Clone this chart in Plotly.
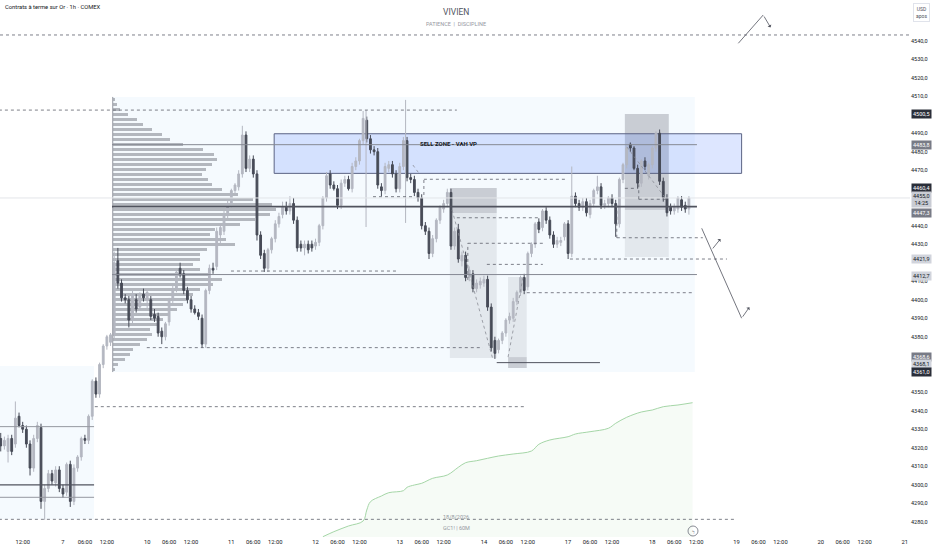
import numpy as np
import plotly.graph_objects as go

# ---------------- DATA ----------------
# hourly candles (bar index 0 = first visible bar)
opens = [4325,4321,4318,4325,4322,4337,4332,4330,4322,4309,
4325,4331,4291,4298,4306,4301,4308,4298,4296,4311,
4291,4309,4315,4325,4324,4337,4356,4349,4365,4375,
4377,4381,4421,4409,4401,4400,4389,4400,4396,4403,
4400,4400,4392,4391,4383,4380,4388,4400,4406,4417,
4414,4405,4400,4395,4393,4390,4376,4405,4417,4418,
4435,4437,4446,4452,4459,4461,4468,4489,4471,4476,
4468,4435,4425,4417,4427,4433,4441,4446,4450,4448,
4452,4443,4430,4428,4430,4430,4429,4431,4440,4455,
4468,4462,4460,4451,4463,4465,4460,4472,4475,4486,
4497,4487,4481,4480,4461,4459,4471,4473,4468,4460,
4472,4486,4466,4465,4458,4455,4440,4437,4425,4433,
4443,4449,4452,4458,4429,4438,4421,4424,4412,4414,
4406,4408,4409,4411,4396,4378,4373,4378,4382,4389,
4390,4399,4404,4412,4407,4425,4430,4442,4439,4448,
4443,4435,4430,4431,4434,4441,4425,4456,4452,4450,
4453,4446,4452,4459,4461,4451,4452,4455,4452,4441,
4465,4473,4484,4482,4471,4463,4475,4467,4473,4482,
4490,4464,4455,4450,4448,4449,4454,4451,4449]
highs = [4328,4326,4327,4327,4345,4339,4334,4332,4324,4327,
4334,4333,4300,4308,4308,4310,4310,4300,4312,4313,
4311,4316,4326,4327,4338,4357,4358,4366,4376,4381,
4382,4426,4428,4411,4403,4402,4405,4403,4404,4406,
4406,4402,4395,4393,4385,4388,4401,4408,4416,4420,
4416,4407,4402,4397,4395,4392,4406,4419,4420,4439,
4441,4448,4454,4460,4463,4470,4494,4491,4478,4478,
4470,4437,4427,4428,4434,4443,4447,4453,4453,4456,
4455,4445,4432,4432,4432,4432,4433,4441,4456,4469,
4470,4464,4462,4465,4467,4467,4474,4477,4487,4502,
4499,4489,4483,4482,4463,4474,4475,4475,4470,4474,
4488,4488,4468,4467,4460,4457,4442,4439,4435,4444,
4451,4454,4460,4460,4439,4441,4426,4426,4418,4416,
4411,4412,4413,4413,4398,4380,4379,4383,4390,4393,
4401,4405,4413,4414,4426,4431,4442,4444,4449,4450,
4445,4437,4434,4434,4442,4443,4472,4458,4454,4455,
4455,4454,4460,4467,4463,4454,4456,4457,4454,4466,
4474,4483,4485,4483,4473,4476,4477,4474,4483,4491,
4492,4466,4457,4452,4452,4456,4456,4453,4456]
lows = [4318,4319,4312,4316,4320,4331,4328,4320,4305,4307,
4323,4287,4281,4296,4300,4299,4296,4293,4294,4288,
4289,4307,4313,4322,4322,4335,4347,4347,4363,4373,
4375,4379,4406,4399,4398,4385,4387,4393,4394,4399,
4395,4389,4388,4380,4376,4378,4386,4398,4404,4412,
4403,4398,4393,4392,4389,4374,4374,4403,4414,4416,
4430,4435,4444,4450,4457,4459,4466,4469,4469,4466,
4432,4422,4415,4415,4425,4431,4439,4444,4446,4446,
4441,4426,4426,4424,4425,4426,4427,4429,4438,4453,
4460,4459,4449,4449,4461,4459,4458,4470,4473,4484,
4485,4479,4478,4460,4456,4457,4469,4466,4458,4458,
4470,4464,4463,4456,4453,4438,4435,4422,4423,4431,
4441,4447,4450,4427,4427,4420,4418,4410,4410,4404,
4404,4406,4407,4394,4372,4368,4371,4376,4380,4387,
4388,4397,4402,4403,4405,4423,4428,4436,4437,4441,
4433,4428,4428,4429,4432,4422,4423,4450,4448,4448,
4445,4444,4450,4457,4449,4449,4450,4450,4434,4439,
4463,4471,4480,4470,4460,4461,4470,4465,4471,4480,
4462,4453,4445,4446,4446,4447,4448,4447,4446]
closes = [4321,4324,4325,4318,4336,4332,4330,4322,4309,4325,
4332,4291,4298,4306,4302,4308,4298,4295,4311,4291,
4309,4315,4325,4324,4337,4356,4349,4365,4375,4380,
4381,4420,4409,4401,4400,4389,4403,4395,4402,4401,
4404,4391,4390,4382,4380,4387,4400,4406,4415,4414,
4405,4400,4395,4393,4391,4376,4405,4417,4416,4437,
4439,4446,4452,4459,4462,4468,4489,4471,4476,4468,
4435,4424,4417,4427,4433,4441,4445,4450,4448,4452,
4443,4428,4428,4430,4427,4428,4431,4440,4455,4467,
4462,4460,4451,4463,4465,4460,4472,4475,4486,4498,
4487,4481,4480,4462,4459,4472,4473,4468,4460,4472,
4486,4466,4465,4458,4455,4440,4437,4425,4433,4443,
4450,4452,4458,4429,4437,4422,4424,4412,4416,4406,
4409,4410,4411,4396,4374,4371,4378,4382,4389,4391,
4399,4404,4412,4405,4425,4430,4441,4438,4448,4443,
4435,4430,4432,4432,4441,4425,4456,4452,4450,4453,
4447,4452,4459,4461,4451,4452,4455,4452,4441,4465,
4473,4482,4482,4471,4463,4475,4472,4473,4482,4490,
4464,4455,4447,4448,4450,4455,4450,4449,4455]
FIRST_BAR = -17   # bar offset relative to session "7" 00:00

# volume profile (rows from top to bottom of range)
VP_HIGH = 4509.6
VP_LOW = 4360.9
vp_volume = [2,4,7,15,24,30,39,49,57,70,90,101,104,99,93,89,95,99,109,125,
             140,159,163,157,142,127,102,97,113,122,94,87,87,80,87,97,109,100,87,80,
             74,70,64,57,50,44,37,39,34,27,20,17,12,5,2]

# cumulative indicator (green line at bottom)
ind_bar = [71,74,78,82,83,84,87,89,93,94,96,98,101,105,108,110,113,116,119,123,
           128,130,133,138,140,144,149,151,154,158,161,164,168,172]
ind_val = [0.3,5.3,11,16,27,35.3,41,44.3,46.3,49.7,52,53.7,58.7,62,69.7,74.3,76.3,78.7,81,83,
           86,92.7,97,100.3,103,105.3,108.7,113.7,119.7,125,127,130.3,132,134.3]

# axis ticks
x_tick_bars = [-11,0,6,12,23,29,35,46,52,58,69,75,81,92,98,104,115,121,127,
               138,144,150,161,167,173,184,190,196,207,213,219,230]
x_tick_text = ["12:00","7","06:00","12:00","10","06:00","12:00","11","06:00","12:00",
               "12","06:00","12:00","13","06:00","12:00","14","06:00","12:00",
               "17","06:00","12:00","18","06:00","12:00","19","06:00","12:00",
               "20","06:00","12:00","21"]
y_ticks = list(range(4280, 4541, 10))
y_ticks_hidden = [4500, 4460, 4450, 4420, 4370, 4360]   # covered by price badges

# price-scale badges: (value, bg, text colour, extra line)
badges = [(4500.5, "#2a2e39", "#ffffff", ""),
          (4483.8, "#787b86", "#ffffff", ""),
          (4460.4, "#2a2e39", "#ffffff", ""),
          (4455.0, "#c9ccd4", "#131722", "14:25"),
          (4447.3, "#787b86", "#ffffff", ""),
          (4421.9, "#d1d4dc", "#131722", ""),
          (4412.7, "#d1d4dc", "#131722", ""),
          (4368.6, "#787b86", "#ffffff", ""),
          (4368.1, "#d1d4dc", "#131722", ""),
          (4361.0, "#2a2e39", "#ffffff", "")]
badge_pos = [4500.5, 4483.8, 4460.4, 4454.0, 4447.0, 4421.9, 4412.7, 4369.2, 4365.0, 4360.8]

# ---------------- FIGURE ----------------
bars = np.arange(len(opens)) + FIRST_BAR
FONT = "Roboto"
DARK = "#131722"

fig = go.Figure()

# volume profile
n = len(vp_volume)
step = (VP_HIGH - VP_LOW) / n
row_centers = [VP_HIGH - (k + 0.5) * step for k in range(n)]
VP_START = 13.6
VP_SCALE = 1 / 3.661
fig.add_trace(go.Bar(orientation="h", y=row_centers, x=[v * VP_SCALE for v in vp_volume],
                     base=VP_START, width=step * 0.72,
                     marker=dict(color="rgba(135,138,147,0.6)", line=dict(width=0)),
                     hoverinfo="skip"))

fig.add_trace(go.Candlestick(x=bars, open=opens, high=highs, low=lows, close=closes,
                             increasing=dict(line=dict(color="#b4b7c1", width=1), fillcolor="#b4b7c1"),
                             decreasing=dict(line=dict(color="#474b57", width=1), fillcolor="#474b57"),
                             whiskerwidth=0))

fig.add_trace(go.Scatter(x=ind_bar, y=ind_val, yaxis="y2", mode="lines",
                         line=dict(color="#a5d6a7", width=1, shape="spline"),
                         fill="tozeroy", fillcolor="rgba(129,199,132,0.07)", hoverinfo="skip"))

shapes = []
def rect(x0, x1, y0, y1, fill, line_color=None, lw=0, layer="below"):
    shapes.append(dict(type="rect", xref="x", yref="y", x0=x0, x1=x1, y0=y0, y1=y1,
                       fillcolor=fill, layer=layer,
                       line=dict(color=line_color or "rgba(0,0,0,0)", width=lw)))
def line(x0, y0, x1, y1, color, width=1, dash="solid", xref="x"):
    shapes.append(dict(type="line", xref=xref, yref="y", x0=x0, x1=x1, y0=y0, y1=y1,
                       line=dict(color=color, width=width, dash=dash)))

LB = "rgba(33,150,243,0.045)"
rect(-17.5, 8.5, 4281.5, 4364.2, LB)
rect(13.4, 172.6, 4360.9, 4509.6, LB)
GD = "rgba(110,113,124,0.32)"
GL = "rgba(110,113,124,0.13)"
rect(105.7, 118.5, 4446.9, 4460.4, GD)
rect(105.7, 118.5, 4368.5, 4446.9, GL)
rect(121.6, 126.7, 4369.0, 4412.3, GL)
rect(121.6, 126.7, 4363.1, 4369.0, GD)
rect(153.5, 165.5, 4448.5, 4500.4, GD)
rect(153.5, 165.5, 4423.1, 4448.5, GL)
rect(57.7, 185.4, 4468.3, 4489.7, "rgba(41,98,255,0.16)", "#5b6384", 1)

# long wick-like vertical markers
line(82.8, 4439.3, 82.8, 4502.5, "#b4b7c1", 1)
line(93.6, 4441.5, 93.6, 4508.0, "#b4b7c1", 1)

# VP base line and key levels
line(VP_START, VP_LOW, VP_START, VP_HIGH, "#9598a1", 1)
line(13.4, 4483.8, 173.2, 4483.8, "#868993", 1)
line(13.4, 4450.3, 173.2, 4450.3, "#50535e", 1.6)
line(13.4, 4413.6, 173.2, 4413.6, "#868993", 1)
line(0, 4455.0, 1, 4455.0, "#e3e5ea", 1, xref="paper")
# left range levels
line(-17.5, 4331.4, 8.5, 4331.4, "#9598a1", 1)
line(-17.5, 4299.9, 8.5, 4299.9, "#50535e", 1.4)
line(-17.5, 4293.2, 8.5, 4293.2, "#9598a1", 1)
# dotted levels
DOT = "#5d606b"
line(0, 4543.1, 1, 4543.1, DOT, 0.8, "dot", xref="paper")
line(-17.5, 4502.5, 107.6, 4502.5, DOT, 0.8, "dot")
line(-17.5, 4281.3, 183.6, 4281.3, DOT, 0.8, "dot")
line(8.7, 4342.2, 126.7, 4342.2, DOT, 0.8, "dot")
line(84.7, 4455.7, 95.6, 4455.7, DOT, 0.8, "dot")
line(98.6, 4465.1, 137.7, 4465.1, DOT, 0.8, "dot")
line(98.6, 4456.6, 98.6, 4465.1, DOT, 0.8, "dot")
line(45.9, 4415.5, 91.5, 4415.5, DOT, 0.8, "dot")
line(22.9, 4374.1, 114.7, 4374.1, DOT, 0.8, "dot")
line(107.6, 4444.3, 130.3, 4444.3, DOT, 0.8, "dot")
line(110.6, 4430.5, 131.7, 4430.5, DOT, 0.8, "dot")
line(110.6, 4410.7, 110.6, 4430.5, DOT, 0.8, "dot")
line(115.8, 4419.1, 131.1, 4419.1, DOT, 0.8, "dot")
line(126.7, 4403.8, 172.6, 4403.8, DOT, 0.8, "dot")
line(138.5, 4422.0, 181.4, 4422.0, DOT, 0.8, "dot")
line(151.3, 4433.5, 174.8, 4433.5, DOT, 0.8, "dot")
line(151.3, 4433.5, 151.3, 4452.8, DOT, 0.8, "dot")
line(153.5, 4460.2, 156.2, 4460.2, DOT, 0.8, "dot")
line(157.3, 4454.3, 165.3, 4454.3, DOT, 0.8, "dot")
line(157.3, 4454.3, 157.3, 4464.7, DOT, 0.8, "dot")
# diagonal dotted paths
GDOT = "#8a8d96"
line(154.1, 4482.5, 165.0, 4453.9, GDOT, 0.8, "dot")
line(106.3, 4448.5, 117.5, 4367.4, GDOT, 0.8, "dot")
line(121.6, 4369.0, 125.7, 4412.3, GDOT, 0.8, "dot")
line(95.6, 4472.8, 97.2, 4468.5, GDOT, 0.8, "dot")
# low line
line(118.5, 4366.0, 146.7, 4366.0, "#50535e", 1)
# projection arrows (line parts)
ARW = "#50535e"
line(184.5, 4538.6, 191.3, 4553.9, ARW, 0.8)
line(174.5, 4438.6, 185.4, 4390.0, ARW, 0.8)

# icon circle
shapes.append(dict(type="circle", xref="paper", yref="paper",
                   x0=688/910, x1=698/910, y0=1-536/537, y1=1-526/537,
                   line=dict(color="#6a6d78", width=0.8)))

annotations = []
def arrow(xt, yt, xh, yh):
    annotations.append(dict(x=xh, y=yh, ax=xt, ay=yt, xref="x", yref="y", axref="x", ayref="y",
                            showarrow=True, arrowhead=1, arrowsize=0.9, arrowwidth=0.8,
                            arrowcolor=ARW, text=""))
arrow(191.3, 4553.9, 193.3, 4547.2)
arrow(185.4, 4390.0, 187.5, 4395.9)
arrow(177.2, 4426.9, 179.6, 4432.8)

def text(x, y, s, size, color, xanchor="center", xref="paper", yref="paper", bold=False):
    annotations.append(dict(x=x, y=y, xref=xref, yref=yref, text=("<b>%s</b>" % s if bold else s),
                            showarrow=False, xanchor=xanchor, yanchor="middle",
                            font=dict(family=FONT, size=size, color=color)))

text(3/910, 1-7/537, "Contrats à terme sur Or · 1h · COMEX", 5.8, DARK, "left")
text(456/910, 1-12/537, "VIVIEN", 8.5, "#50535e")
text(456/910, 1-24/537, "PATIENCE  |  DISCIPLINE", 5.5, "#9598a1")
text(97.0, 4484.4, "SELL ZONE - VAH VP", 6, DARK, "left", "x", "y", bold=True)
text(456/910, 1-517/537, "18/8/2026", 5.5, "#9598a1")
text(456/910, 1-528/537, "GC1! | 60M", 5.5, "#9598a1")
text(693/910, 1-531/537, "ϟ", 6, "#6a6d78")

annotations.append(dict(x=1, y=1, xref="paper", yref="paper", xanchor="left", yanchor="top",
                        xshift=3, yshift=-3, showarrow=False, text="USD<br>apos",
                        font=dict(family=FONT, size=5, color="#50535e"),
                        bordercolor="#e0e3eb", borderwidth=1, borderpad=2, bgcolor="#ffffff"))

for (val, bg, fg, extra), pos in zip(badges, badge_pos):
    s = ("%.1f" % val).replace(".", ",")
    if extra:
        s = s + "<br>" + extra
    annotations.append(dict(x=1, y=pos, xref="paper", yref="y", xanchor="left", yanchor="middle",
                            xshift=1, showarrow=False, text=s, bgcolor=bg, borderpad=1,
                            font=dict(family=FONT, size=5.5, color=fg)))

fig.update_layout(
    width=932, height=550,
    margin=dict(l=0, r=22, t=0, b=13),
    paper_bgcolor="#ffffff", plot_bgcolor="#ffffff",
    showlegend=False, bargap=0,
    shapes=shapes, annotations=annotations,
    xaxis=dict(range=[-17.2, 231.4], tickvals=x_tick_bars, ticktext=x_tick_text,
               showgrid=False, zeroline=False, showline=False, ticks="",
               tickfont=dict(family=FONT, size=5.8, color=DARK),
               rangeslider=dict(visible=False)),
    yaxis=dict(range=[4271.75, 4562.0], side="right", tickvals=y_ticks,
               ticktext=["" if v in y_ticks_hidden else ("%.1f" % v).replace(".", ",") for v in y_ticks],
               showgrid=False, zeroline=False, showline=False, ticks="",
               tickfont=dict(family=FONT, size=5.5, color=DARK)),
    yaxis2=dict(range=[0, 537], overlaying="y", visible=False),
)

fig.write_html("out.html", config={"displayModeBar": False},
               post_script="document.body.style.margin='0';document.body.style.padding='0';")
